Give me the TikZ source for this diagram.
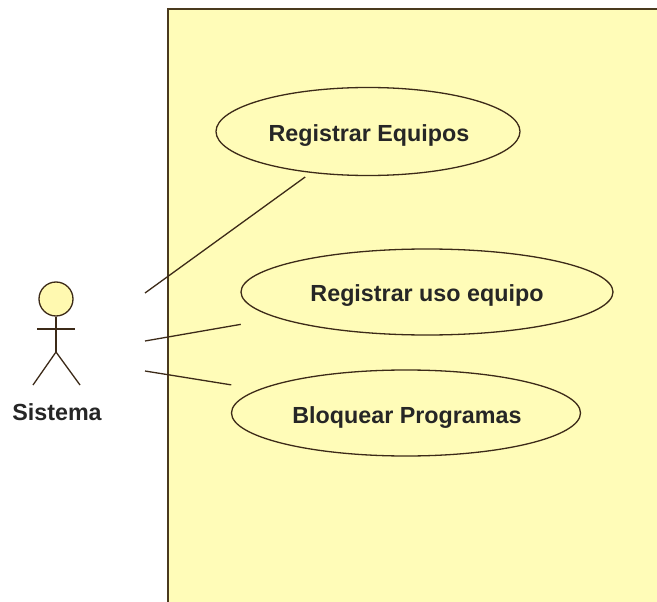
\documentclass[tikz,border=0pt]{standalone}
\usepackage{fontspec}
\setmainfont{Liberation Sans}
\usetikzlibrary{shapes.geometric}
\definecolor{marco}{HTML}{4A3A1E}
\definecolor{fondo}{HTML}{FFFCB8}
\definecolor{cabeza}{HTML}{FFF9B0}
\definecolor{linea}{HTML}{3C2A18}
\tikzset{
	casouso/.style={ellipse, draw=linea, line width=1.3pt, inner sep=0pt},
	rotulo/.style={font=\bfseries\fontsize{23.3}{25}\selectfont, text=black!85},
	asociacion/.style={draw=linea, line width=1.3pt},
	monigote/.style={draw=linea, line width=1.3pt}
}

\begin{document}
\begin{tikzpicture}[x=1pt,y=-1pt]
	\useasboundingbox (0,0) rectangle (657,602);
	
	% system frame, open at the right and at the bottom
	\fill[fondo] (168,9) rectangle (657,602);
	\draw[marco, line width=2pt] (168,602) -- (168,9) -- (657,9);
	
	% use cases
	\node[casouso, minimum width=304pt, minimum height=88pt] (EQ) at (368,131.5) {};
	\node[rotulo] (tEQ) at (369,136) {Registrar Equipos};
	\node[casouso, minimum width=372pt, minimum height=86pt] (USO) at (427,292) {};
	\node[rotulo] (tUSO) at (427,296) {Registrar uso equipo};
	\node[casouso, minimum width=349pt, minimum height=86pt] (BLQ) at (406,413) {};
	\node[rotulo] (tBLQ) at (407,418) {Bloquear Programas};
	
	% actor
	\coordinate (cadera) at (56,352);
	\node[circle, monigote, fill=cabeza, minimum size=34pt, inner sep=0pt] (H) at (56,299) {};
	\coordinate (BI) at (37,329);
	\coordinate (BD) at (75,329);
	\coordinate (PI) at (33,385);
	\coordinate (PD) at (80,385);
	\draw[monigote] (H) -- (cadera);
	\draw[monigote] (BI) -- (BD);
	\draw[monigote] (PI) -- (cadera) -- (PD);
	\node[rotulo] (S) at (57,412) {Sistema};
	
	% associations, they stop short of the ellipses
	\coordinate (A1) at (145,293);
	\coordinate (A2) at (145,341);
	\coordinate (A3) at (145,371);
	\draw[asociacion, shorten >=7pt] (A1) -- (EQ);
	\draw[asociacion, shorten >=37pt] (A2) -- (USO);
	\draw[asociacion, shorten >=28pt] (A3) -- (BLQ);
\end{tikzpicture}
\end{document}
